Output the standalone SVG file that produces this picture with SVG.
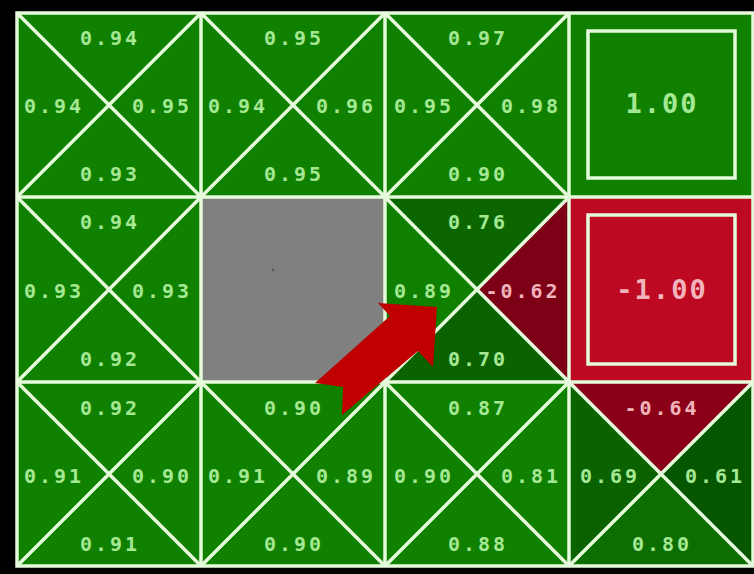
<svg xmlns="http://www.w3.org/2000/svg" width="754" height="574" viewBox="0 0 754 574">
<style>
.g{fill:#108000}
.d1{fill:#0b6600}
.d2{fill:#0a6200}
.d3{fill:#065600}
.d4{fill:#0c6e00}
.r1{fill:#7c0016}
.r2{fill:#8a0018}
.red{fill:#bd0a22}
.gray{fill:#808080}
.ln{stroke:#e6fadc;stroke-width:3.5;fill:none}
.t{font-family:"DejaVu Sans Mono","Liberation Mono",monospace;font-size:20px;font-weight:bold;letter-spacing:3px;fill:#a4e894;text-anchor:middle}
.tr{fill:#f2b4bc}
.big{font-size:27px;letter-spacing:2px}
</style>
<rect width="754" height="574" fill="#000"/>

<!-- Row 0 -->
<g id="cell-0-0">
<rect x="17" y="13" width="184" height="184" class="g"/>
<path class="ln" d="M17 13 L201 197 M201 13 L17 197"/>
<text class="t" x="110" y="45">0.94</text>
<text class="t" x="54" y="113">0.94</text>
<text class="t" x="162" y="113">0.95</text>
<text class="t" x="110" y="181">0.93</text>
</g>
<g id="cell-1-0">
<rect x="201" y="13" width="184" height="184" class="g"/>
<path class="ln" d="M201 13 L385 197 M385 13 L201 197"/>
<text class="t" x="294" y="45">0.95</text>
<text class="t" x="238" y="113">0.94</text>
<text class="t" x="346" y="113">0.96</text>
<text class="t" x="294" y="181">0.95</text>
</g>
<g id="cell-2-0">
<rect x="385" y="13" width="184" height="184" class="g"/>
<path class="ln" d="M385 13 L569 197 M569 13 L385 197"/>
<text class="t" x="478" y="45">0.97</text>
<text class="t" x="424" y="113">0.95</text>
<text class="t" x="531" y="113">0.98</text>
<text class="t" x="478" y="181">0.90</text>
</g>
<g id="cell-3-0">
<rect x="569" y="13" width="184" height="184" class="g"/>
<rect x="588" y="31" width="147" height="147" class="ln"/>
<text class="t big" x="662" y="113">1.00</text>
</g>

<!-- Row 1 -->
<g id="cell-0-1">
<rect x="17" y="197" width="184" height="185" class="g"/>
<path class="ln" d="M17 197 L201 382 M201 197 L17 382"/>
<text class="t" x="110" y="229">0.94</text>
<text class="t" x="54" y="298">0.93</text>
<text class="t" x="162" y="298">0.93</text>
<text class="t" x="110" y="366">0.92</text>
</g>
<g id="cell-1-1">
<rect x="201" y="197" width="184" height="185" class="gray"/>
<circle cx="273" cy="270" r="1.3" fill="#555"/>
</g>
<g id="cell-2-1">
<polygon points="385,197 569,197 477,289.5" class="d1"/>
<polygon points="385,197 477,289.5 385,382" class="g"/>
<polygon points="569,197 569,382 477,289.5" class="r1"/>
<polygon points="385,382 569,382 477,289.5" class="d2"/>
<path class="ln" d="M385 197 L569 382 M569 197 L385 382"/>
<text class="t" x="478" y="229">0.76</text>
<text class="t" x="424" y="298">0.89</text>
<text class="t tr" x="523" y="298">-0.62</text>
<text class="t" x="478" y="366">0.70</text>
</g>
<g id="cell-3-1">
<rect x="569" y="197" width="184" height="185" class="red"/>
<rect x="588" y="215" width="147" height="149" class="ln"/>
<text class="t tr big" x="662" y="299">-1.00</text>
</g>

<!-- Row 2 -->
<g id="cell-0-2">
<rect x="17" y="382" width="184" height="184" class="g"/>
<path class="ln" d="M17 382 L201 566 M201 382 L17 566"/>
<text class="t" x="110" y="415">0.92</text>
<text class="t" x="54" y="483">0.91</text>
<text class="t" x="162" y="483">0.90</text>
<text class="t" x="110" y="551">0.91</text>
</g>
<g id="cell-1-2">
<rect x="201" y="382" width="184" height="184" class="g"/>
<path class="ln" d="M201 382 L385 566 M385 382 L201 566"/>
<text class="t" x="294" y="415">0.90</text>
<text class="t" x="238" y="483">0.91</text>
<text class="t" x="346" y="483">0.89</text>
<text class="t" x="294" y="551">0.90</text>
</g>
<g id="cell-2-2">
<rect x="385" y="382" width="184" height="184" class="g"/>
<path class="ln" d="M385 382 L569 566 M569 382 L385 566"/>
<text class="t" x="478" y="415">0.87</text>
<text class="t" x="424" y="483">0.90</text>
<text class="t" x="531" y="483">0.81</text>
<text class="t" x="478" y="551">0.88</text>
</g>
<g id="cell-3-2">
<polygon points="569,382 753,382 661,474" class="r2"/>
<polygon points="569,382 661,474 569,566" class="d2"/>
<polygon points="753,382 753,566 661,474" class="d3"/>
<polygon points="569,566 753,566 661,474" class="d4"/>
<path class="ln" d="M569 382 L753 566 M753 382 L569 566"/>
<text class="t tr" x="662" y="415">-0.64</text>
<text class="t" x="610" y="483">0.69</text>
<text class="t" x="715" y="483">0.61</text>
<text class="t" x="662" y="551">0.80</text>
</g>

<g id="connectors">
<path class="ln" d="M17 13 H753 V566 H17 Z M201 13 V566 M385 13 V566 M569 13 V566 M17 197 H753 M17 382 H753"/>
<polygon id="arrow" points="378,303 437,307 433,367 418,351 342,415 343,387 315,383 390,316" fill="#c00000"/>
</g>
</svg>
